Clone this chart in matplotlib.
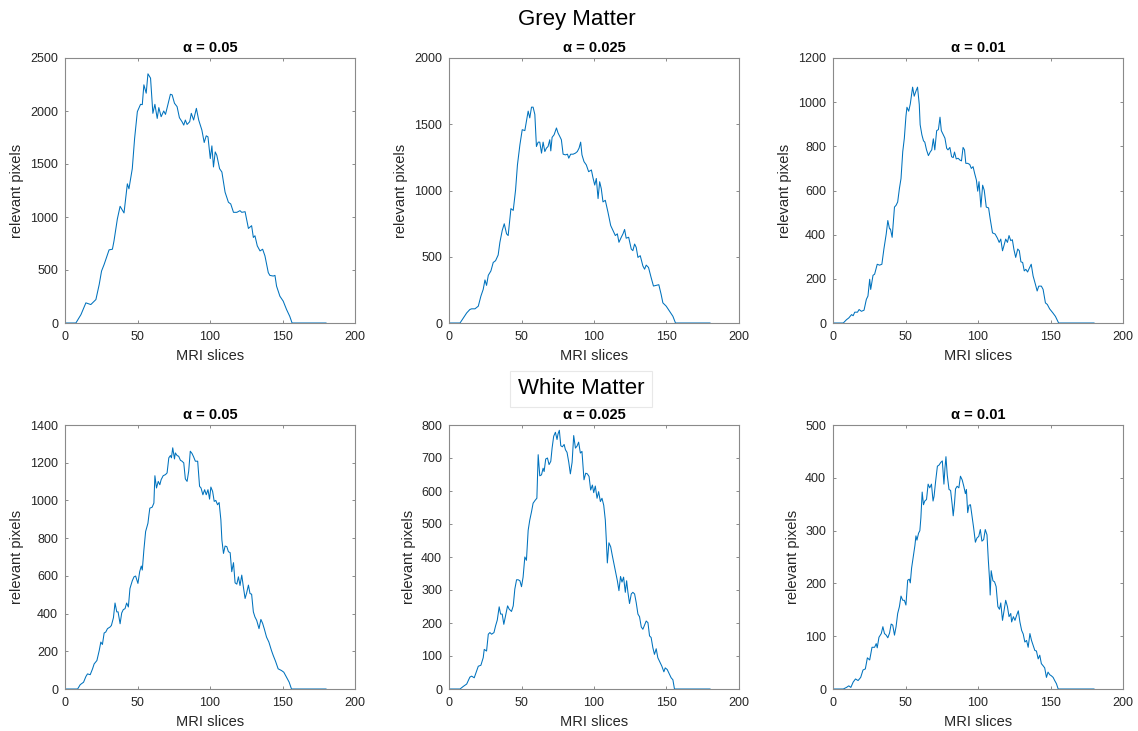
import matplotlib
matplotlib.use("Agg")
import matplotlib.pyplot as plt

plt.rcParams['font.family'] = ['Liberation Sans', 'DejaVu Sans']

# ---------------- data (slice index, relevant pixels) ----------------
gm05_x = [1, 7.5, 11, 14.4, 17.8, 21.3, 23.6, 25.2, 27, 30.4, 32.7, 33.8, 36.1, 38, 40.7, 43, 44.1, 46.4, 48, 49.9,
          52.1, 53.3, 54.4, 56, 57.2, 59, 60.6, 62, 63.6, 64.7, 66.3, 68.1, 69.3, 70.9, 72.7, 73.9, 75.5, 77.3, 78.9, 80.7,
          81.9, 83, 84.2, 86, 87.1, 88.7, 90.6, 92.2, 94.4, 96, 97.4, 98.6, 100.2, 101.3, 102.4, 103.6, 104.7, 106.6, 108.2,
          110.4, 112.7, 114.3, 116.2, 118.5, 120.7, 121.9, 124.2, 126.5, 128.7, 129.9, 131, 132.6, 134.5, 136.3, 137.9,
          140.2, 141.3, 143.6, 144.8, 145.9, 148.2, 150.5, 152.8, 155, 156.6, 180]
gm05_y = [0, 0, 79, 190, 174, 221, 364, 490, 553, 690, 696, 775, 981, 1101, 1038, 1313, 1266, 1456, 1740, 1994,
          2063, 2060, 2247, 2168, 2351, 2310, 1978, 2063, 1930, 2032, 1946, 2000, 1968, 2057, 2158, 2152, 2073, 2041, 1937, 1899,
          1867, 1915, 1873, 1899, 1978, 1915, 2025, 1915, 1820, 1703, 1766, 1756, 1551, 1671, 1472, 1614, 1582, 1456, 1424,
          1234, 1139, 1123, 1044, 1044, 1060, 1044, 1050, 892, 918, 807, 823, 728, 680, 696, 633,
          475, 449, 443, 449, 348, 253, 206, 127, 63, 0, 0]

gm025_x = [1, 7.6, 9.9, 12.2, 14.4, 15.6, 17.9, 20.2, 22, 23.6, 24.8, 25.9, 27.1, 28.9, 30.5, 32.1, 33.9, 35.1, 36.7, 38.1,
           39.7, 40.8, 42.7, 44.3, 45.9, 47.2, 48.9, 50.5, 52.3, 53.4, 54.6, 55.7, 56.9, 58, 59.2, 60.3, 61.5, 62.6, 63.8, 64.9,
           66.1, 67.2, 68.3, 69.5, 70.2, 71.1, 72.5, 74.1, 75.2, 76.4, 77.5, 78.7, 80.3, 81.7, 82.6, 83.9, 85.6, 87.2, 88.5, 89.7,
           90.8, 91.7, 93.1, 94.7, 96.3, 98.2, 99.3, 100.5, 101.6, 102.8, 103.9, 105, 106.2, 107.8, 109.6, 111.5, 113.1, 114.7,
           116.1, 117.2, 118.8, 120, 121.1, 122.2, 123.9, 125.7, 126.8, 128, 129.1, 130.3, 131.9, 133.7, 134.9, 136, 137.6,
           139.4, 141, 142.9, 144.7, 146.3, 147.5, 149.8, 152.1, 154.4, 156.2, 180]
gm025_y = [0, 0, 38, 76, 102, 107, 107, 127, 203, 254, 325, 284, 360, 393, 457, 470, 513, 609, 698, 749,
           673, 660, 863, 850, 1003, 1193, 1345, 1459, 1452, 1523, 1599, 1548, 1629, 1629, 1574, 1332, 1365, 1365, 1282, 1365,
           1294, 1320, 1332, 1383, 1299, 1401, 1421, 1472, 1434, 1408, 1383, 1274, 1269, 1274, 1244, 1274, 1274, 1282, 1294, 1320,
           1365, 1269, 1218, 1193, 1142, 1155, 1096, 1041, 1091, 939, 1066, 1015, 914, 926, 838, 736, 698, 660,
           673, 609, 647, 673, 706, 640, 647, 558, 546, 596, 571, 495, 508, 431, 406, 437, 419,
           343, 279, 284, 289, 216, 152, 127, 89, 51, 0, 0]

gm01_x = [1, 7.1, 9.3, 10.9, 12.8, 13.9, 15, 16.9, 18, 19.6, 21.4, 23, 24.1, 25.3, 26, 27.6, 28.7, 30.5, 32.1, 33.7,
          35.1, 36.7, 37.8, 39, 39.6, 40.8, 42.4, 43.5, 44.6, 45.8, 46.9, 48.1, 49.2, 50.3, 51, 52.2, 53.3, 54.9, 56, 57.2,
          58.3, 59.5, 60.1, 61.3, 62.4, 63.3, 64.5, 65.8, 67, 68.1, 69.2, 70.2, 71.5, 72.7, 73.8, 74.7, 76.1, 77.2, 78.4, 79.3,
          80.6, 81.8, 82.9, 83.8, 85, 86.3, 87.5, 88.6, 89.7, 90.7, 91.6, 92.9, 94.3, 95.4, 96.6, 97.7, 98.9, 99.8, 100.7, 102,
          103.2, 104.3, 105.7, 107.3, 108.4, 110, 111.8, 113.4, 114.6, 115.7, 116.9, 118, 119.1, 120.3, 121.4,
          122.6, 123.7, 124.8, 126, 127.4, 128.5, 129.6, 130.8, 131.9, 133, 134.2, 135.3, 136.7, 138, 139.6,
          140.8, 141.9, 143.7, 144.9, 146.5, 147.8, 149.4, 151.6, 153.4, 155.6, 180]
gm01_y = [0, 0, 15, 23, 38, 33, 49, 49, 61, 53, 58, 107, 122, 198, 152, 216, 221, 266, 262, 266,
          335, 403, 464, 426, 426, 388, 525, 533, 548, 609, 654, 776, 837, 936, 977, 959, 992, 1068, 1027, 1050,
          1068, 989, 898, 852, 825, 819, 784, 758, 774, 784, 834, 784, 871, 876, 932, 871, 852, 837, 791, 784,
          795, 753, 749, 774, 743, 746, 738, 734, 795, 784, 723, 723, 718, 700, 708, 677, 647, 597, 640, 525,
          624, 601, 525, 521, 472, 408, 403, 384, 365, 380, 327, 353, 380, 365, 396,
          373, 377, 332, 297, 335, 327, 277, 274, 236, 243, 231, 247, 266, 213, 175,
          145, 167, 167, 152, 91, 84, 64, 46, 30, 0, 0]

wm05_x = [1, 8.7, 10.5, 12.8, 14.4, 15.5, 17.4, 19, 20.1, 22, 23.6, 24.7, 25.8, 27, 28.1, 29.3, 31.1, 32, 33.4, 34.5,
          35.7, 36.6, 38, 39.1, 40.2, 41.4, 42.5, 43.7, 44.8, 46.4, 47.6, 48.7, 50.3, 51.5, 52.6, 53.3, 54.4, 55.6, 57.2, 57.9,
          58.5, 60.1, 61.3, 62, 63.1, 64.3, 65.4, 66.3, 67.7, 69.3, 70.4, 71.6, 72.7, 73.4, 74.3, 75.5, 76.1, 77.3, 78.4, 79.6,
          80.7, 81.9, 83, 84.2, 85.3, 86.4, 87.6, 88.7, 89.9, 91.5, 92.8, 93.8, 95.1, 96.3, 97.4, 98.6, 99.7, 100.6, 101.8, 102.9,
          104, 105.2, 106.3, 107.5, 108.2, 109.3, 110.4, 111.6, 112.7, 113.9, 115, 116.2, 117.3, 118.5, 119.6,
          120.7, 121.9, 123, 124.2, 125.3, 126.5, 127.6, 128.7, 129.9, 131, 132.2, 133.8, 135.1, 136.3, 137.4,
          139, 140.6, 142.4, 143.6, 145.2, 147, 149.3, 150.9, 152.8, 154.6, 156.2, 180]
wm05_y = [0, 0, 23, 36, 66, 80, 76, 107, 133, 151, 204, 249, 236, 297, 302, 320, 329, 337, 378, 456,
          409, 409, 346, 403, 421, 426, 456, 435, 533, 574, 595, 599, 560, 622, 652, 631, 737, 835, 879, 924,
          959, 964, 986, 1131, 1066, 1101, 1083, 1110, 1131, 1137, 1146, 1226, 1238, 1226, 1279, 1220, 1252, 1238, 1234, 1213,
          1208, 1199, 1114, 1101, 1155, 1261, 1249, 1231, 1208, 1208, 1075, 1066, 1030, 1057, 1030, 1057, 1007, 1071, 1048, 995,
          1000, 977, 989, 897, 790, 719, 758, 755, 728, 723, 622, 670, 563, 556, 595,
          549, 604, 542, 480, 510, 551, 506, 503, 409, 382, 364, 320, 369, 348, 320,
          275, 249, 204, 178, 147, 107, 98, 89, 62, 36, 0, 0]

wm025_x = [1, 7.6, 9.9, 12.2, 14.4, 15.6, 17.4, 19, 20.2, 22, 23.6, 24.3, 25.9, 27.1, 28.2, 29.4, 31, 32.1, 33.3, 34.6,
           35.6, 36.7, 37.8, 39, 40.4, 41.5, 43.1, 44.3, 45.4, 46.6, 47.7, 48.9, 50, 51.1, 52.3, 53.4, 54.6, 55.7, 56.9, 58,
           59.6, 60.6, 61.5, 62.6, 63.8, 64.9, 65.6, 66.7, 67.9, 69, 70.2, 71.1, 72.2, 73.4, 74.5, 75.2, 76.1, 77.1, 78.2, 79.4,
           80.3, 81.4, 82.6, 83.7, 84.9, 86, 87.2, 88.3, 89.4, 90.6, 91.7, 93.1, 94.3, 95.4, 96.6, 97.7, 98.9, 99.8, 100.9, 102.1,
           103.2, 104.4, 105.5, 106.7, 107.8, 108.5, 109.2, 110.3, 111.5, 112.6, 113.8, 114.9, 116.1, 117.2, 118.3,
           119.3, 120.4, 121.6, 122.5, 123.4, 124.5, 125.7, 126.8, 128, 129.1, 130.3, 131.4, 132.6, 133.7, 134.9,
           136, 137.2, 138.3, 139.4, 140.6, 141.7, 142.9, 144, 145.2, 146.8, 148.2, 149.1, 150.5, 151.6, 153.2,
           154.4, 155.5, 180]
wm025_y = [0, 0, 8, 15, 36, 39, 34, 54, 69, 72, 95, 120, 115, 166, 171, 166, 171, 191, 209, 249,
           227, 227, 196, 222, 252, 242, 235, 252, 303, 331, 331, 328, 310, 339, 400, 390, 481, 512, 537, 563,
           573, 578, 710, 646, 649, 669, 659, 697, 700, 680, 690, 730, 766, 778, 756, 773, 784, 737, 734, 741,
           725, 717, 687, 652, 687, 768, 730, 736, 748, 715, 720, 634, 654, 652, 644, 603, 618, 595, 615, 578,
           598, 568, 578, 557, 512, 451, 382, 443, 431, 405, 379, 354, 328, 298, 341,
           324, 339, 293, 328, 293, 259, 288, 293, 288, 262, 227, 219, 188, 181, 194,
           206, 201, 161, 156, 125, 105, 122, 95, 84, 69, 52, 64, 59, 49, 34,
           28, 0, 0]

wm01_x = [1, 7.1, 9.3, 10.9, 12.3, 13.9, 15.5, 17.3, 19.1, 20.7, 22.3, 23.7, 25.3, 26.9, 28.7, 29.8, 30.5, 31.7, 33.3, 34.4,
          35.5, 36.7, 37.8, 39, 40.1, 41.2, 42.4, 43.5, 44.6, 45.8, 46.9, 48.1, 49.2, 50.3, 51.5, 52.6, 53.3, 54.2, 55.4, 56.5,
          57.2, 57.9, 59, 59.9, 60.6, 61.5, 62.4, 63.3, 64.5, 65.6, 66.7, 67.9, 69, 69.7, 70.8, 72, 73.1, 74.3, 75.4, 76.5,
          77.2, 77.9, 78.8, 80, 81.1, 82.2, 82.9, 83.8, 84.5, 85.6, 86.8, 87.9, 89.1, 90.2, 91.3, 92, 92.9, 93.8, 94.8, 95.9,
          97, 98.2, 99.3, 100.5, 101.6, 102.7, 103.9, 105, 106.2, 107.1, 108, 108.4, 109.1, 110.3, 111.4,
          112.5, 113.7, 114.8, 115.7, 116.9, 118, 119.1, 120.3, 121.4, 122.6, 123.2, 124.4, 125.5, 126.7, 127.8,
          128.9, 130.1, 131.2, 132.3, 133.5, 134.6, 135.8, 136.9, 138, 139.2, 140.3, 141.5, 142.6, 143.7, 144.9,
          146, 147.2, 148.3, 149.5, 150.6, 151.8, 152.9, 154.1, 155.3, 180]
wm01_y = [0, 0, 3, 6, 3, 13, 19, 16, 22, 36, 38, 59, 55, 79, 79, 86, 78, 98, 105, 118,
          105, 102, 97, 106, 123, 121, 102, 118, 143, 156, 176, 168, 168, 159, 206, 208, 201, 229, 251, 272,
          290, 282, 295, 300, 324, 373, 349, 356, 359, 388, 381, 388, 356, 365, 394, 422, 424, 429, 432, 388,
          418, 440, 405, 378, 376, 349, 328, 352, 379, 384, 381, 403, 396, 384, 370, 378, 334, 348, 349, 327,
          305, 278, 286, 289, 302, 280, 283, 302, 292, 245, 206, 178, 224, 205, 203,
          194, 156, 151, 163, 130, 149, 168, 156, 137, 143, 127, 137, 130, 140, 148,
          127, 111, 104, 89, 92, 79, 105, 92, 83, 73, 72, 57, 64, 48, 44,
          40, 22, 32, 27, 25, 22, 16, 10, 0, 0]

panel_titles = ['α = 0.05', 'α = 0.025', 'α = 0.01']
grey_series = [(gm05_x, gm05_y), (gm025_x, gm025_y), (gm01_x, gm01_y)]
white_series = [(wm05_x, wm05_y), (wm025_x, wm025_y), (wm01_x, wm01_y)]
grey_ylims = [2500, 2000, 1200]
white_ylims = [1400, 800, 500]
grey_yticks = [500, 500, 200]
white_yticks = [200, 100, 100]
xlabel = 'MRI slices'
ylabel = 'relevant pixels'
row_titles = ['Grey Matter', 'White Matter']

# ---------------- figure ----------------
W, H = 1138, 731
fig = plt.figure(figsize=(W / 100, H / 100), dpi=100)

lefts = [65, 449, 833]
pw = 290
rows = [(58, 323), (425, 689)]

txtcol = '#262626'
spinecol = '#8a8a8a'
line_col = '#0072BD'

def make_ax(l, top, bot):
    return fig.add_axes([l / W, 1 - bot / H, pw / W, (bot - top) / H])

for r, (series, ylims, ysteps) in enumerate([(grey_series, grey_ylims, grey_yticks),
                                               (white_series, white_ylims, white_yticks)]):
    top, bot = rows[r]
    for c in range(3):
        ax = make_ax(lefts[c], top, bot)
        xs, ys = series[c]
        ax.plot(xs, ys, color=line_col, lw=0.75)
        ax.set_xlim(0, 200)
        ax.set_ylim(0, ylims[c])
        ax.set_xticks(range(0, 201, 50))
        ax.set_yticks(range(0, ylims[c] + 1, ysteps[c]))
        ax.tick_params(direction='in', top=True, right=True, length=2.5, width=0.7,
                       color=spinecol, labelcolor=txtcol, labelsize=9)
        ax.tick_params(axis='x', pad=6)
        ax.tick_params(axis='y', pad=5)
        for s in ax.spines.values():
            s.set_color(spinecol)
            s.set_linewidth(0.8)
        ax.set_title(panel_titles[c], fontsize=10.5, fontweight='bold', color='black', pad=4)
        ax.set_xlabel(xlabel, fontsize=10.5, color=txtcol, labelpad=4)
        ax.set_ylabel(ylabel, fontsize=10.5, color=txtcol, labelpad=4)

fig.text(577 / W, 1 - 20 / H, row_titles[0], ha='center', va='center', fontsize=16, color='black')
fig.text(581 / W, 1 - 389 / H, row_titles[1], ha='center', va='center', fontsize=16, color='black',
         bbox=dict(boxstyle='square,pad=0.35', facecolor='white', edgecolor='#e8e8e8', linewidth=0.8))

fig.savefig('out.png', dpi=100)
